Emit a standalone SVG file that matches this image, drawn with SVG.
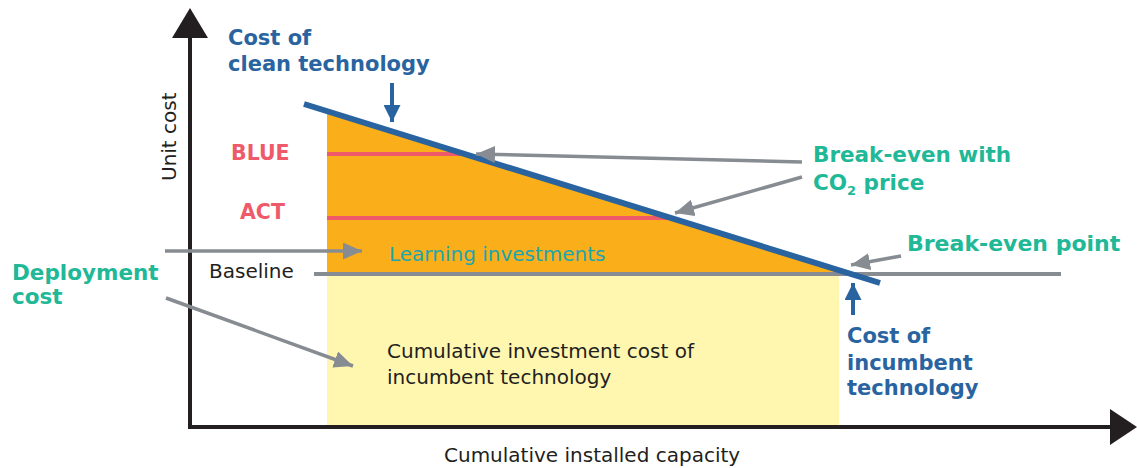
<svg xmlns="http://www.w3.org/2000/svg" width="1137" height="468" viewBox="0 0 1137 468">
<style>
.bold{font-family:"DejaVu Sans","Liberation Sans",sans-serif;font-weight:bold}
.reg{font-family:"DejaVu Sans","Liberation Sans",sans-serif;font-size:20px;fill:#231f20}
.blue{fill:#2a64a0;font-size:21px}
.teal{fill:#20b896}
.red{fill:#ef5a6a;font-size:20.5px}
.garrow{stroke:#878c92;stroke-width:3.5;fill:none;marker-end:url(#gh)}
.barrow{stroke:#2a64a0;stroke-width:4;fill:none;marker-end:url(#bh)}
</style>
<defs>
<marker id="gh" markerUnits="userSpaceOnUse" markerWidth="19" markerHeight="17" refX="19" refY="8.5" orient="auto" viewBox="0 0 19 17">
<path d="M0,0 L19,8.5 L0,17 Z" fill="#878c92"/>
</marker>
<marker id="bh" markerUnits="userSpaceOnUse" markerWidth="17" markerHeight="17" refX="17" refY="8.5" orient="auto" viewBox="0 0 17 17">
<path d="M0,0 L17,8.5 L0,17 Z" fill="#2a64a0"/>
</marker>
</defs>
<rect width="1137" height="468" fill="#ffffff"/>

<g id="incumbent-area">
<rect x="327" y="274" width="512" height="151" fill="#fff6b0"/>
</g>
<g id="learning-area">
<polygon points="327,111 851,274 327,274" fill="#f9ae1a"/>
</g>
<g id="scenario-lines">
<line x1="327" y1="154" x2="462" y2="154" stroke="#ef5a6a" stroke-width="4"/>
<line x1="327" y1="218" x2="668" y2="218" stroke="#ef5a6a" stroke-width="4"/>
</g>
<g id="baseline">
<line x1="314" y1="274" x2="1061" y2="274" stroke="#878c92" stroke-width="4"/>
</g>
<g id="clean-cost-line">
<line x1="304" y1="104" x2="880" y2="283" stroke="#2a64a0" stroke-width="6"/>
</g>

<g id="axes">
<line x1="190" y1="36" x2="190" y2="429" stroke="#231f20" stroke-width="4"/>
<polygon points="190,8 208,38 172,38" fill="#231f20"/>
<line x1="188" y1="427" x2="1112" y2="427" stroke="#231f20" stroke-width="4"/>
<polygon points="1137,427 1110,409 1110,445" fill="#231f20"/>
</g>

<g id="connectors">
<line class="garrow" x1="802" y1="162" x2="476" y2="154"/>
<line class="garrow" x1="802" y1="177" x2="675" y2="213"/>
<line class="garrow" x1="901" y1="256" x2="851" y2="265"/>
<line class="garrow" x1="165" y1="251" x2="362" y2="251"/>
<line class="garrow" x1="166" y1="298" x2="353" y2="366"/>
<line class="barrow" x1="392" y1="83" x2="392" y2="122"/>
<line class="barrow" x1="853" y1="315" x2="853" y2="283"/>
</g>

<g id="label-clean">
<text class="bold blue" x="228" y="45">Cost of</text>
<text class="bold blue" x="228" y="71">clean technology</text>
</g>
<g id="label-blue"><text class="bold red" x="231" y="160">BLUE</text></g>
<g id="label-act"><text class="bold red" x="240" y="219">ACT</text></g>
<g id="label-breakeven-co2">
<text class="bold teal" x="813" y="162" font-size="21.5">Break-even with</text>
<text class="bold teal" x="813" y="190" font-size="21.5">CO<tspan font-size="13" dy="5">2</tspan><tspan dy="-5"> price</tspan></text>
</g>
<g id="label-breakeven-point"><text class="bold teal" x="907" y="251" font-size="22">Break-even point</text></g>
<g id="label-deployment">
<text class="bold teal" x="12" y="280" font-size="21.5">Deployment</text>
<text class="bold teal" x="12" y="304" font-size="21.5">cost</text>
</g>
<g id="label-learning"><text class="reg" x="389" y="261" style="fill:#1aa6b0">Learning investments</text></g>
<g id="label-baseline"><text class="reg" x="209" y="278" font-size="19.5">Baseline</text></g>
<g id="label-cumulative">
<text class="reg" x="387" y="358">Cumulative investment cost of</text>
<text class="reg" x="387" y="384">incumbent technology</text>
</g>
<g id="label-incumbent">
<text class="bold blue" x="847" y="343">Cost of</text>
<text class="bold blue" x="847" y="370">incumbent</text>
<text class="bold blue" x="847" y="395">technology</text>
</g>
<g id="label-yaxis"><text class="reg" transform="translate(176,181) rotate(-90)">Unit cost</text></g>
<g id="label-xaxis"><text class="reg" x="444" y="462">Cumulative installed capacity</text></g>
</svg>
